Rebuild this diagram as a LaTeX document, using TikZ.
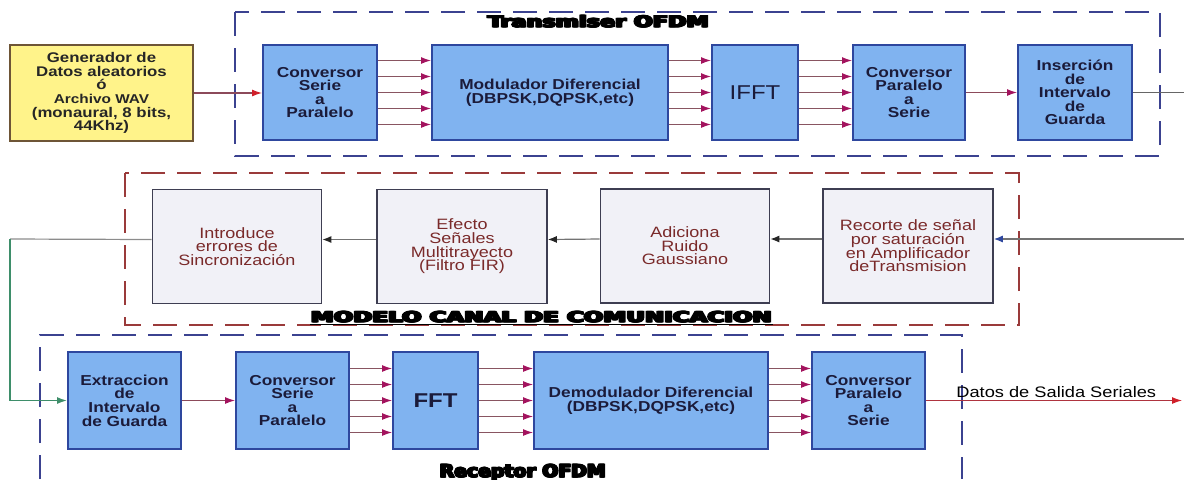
\documentclass[tikz,border=0pt]{standalone}
\usepackage{fontspec}
\setmainfont{Liberation Sans}[FakeStretch=1.2]
\newfontfamily\heavyfont{DejaVu Sans}[FakeBold=6]
\usepackage{graphicx}
\usepackage{tikz}
\usetikzlibrary{arrows.meta,calc}

\definecolor{boxblue}{HTML}{80B3F0}
\definecolor{edgeblue}{HTML}{2E479E}
\definecolor{genyellow}{HTML}{FFF38A}
\definecolor{genedge}{HTML}{6E5536}
\definecolor{chanfill}{HTML}{F1F1F7}
\definecolor{chanedge}{HTML}{3E3E52}
\definecolor{chantext}{HTML}{7A2A2A}
\definecolor{frameblue}{HTML}{3B4290}
\definecolor{framered}{HTML}{9A3A3A}
\definecolor{wirered}{HTML}{8C4A5A}
\definecolor{tipmag}{HTML}{A3135E}
\definecolor{tipred}{HTML}{D0202A}
\definecolor{wiregreen}{HTML}{3E8E6A}
\definecolor{boxtext}{HTML}{1B1B3A}

% heavy title text: a few copies side by side
\newcommand{\heavytitle}[1]{{\heavyfont\bfseries\rlap{\kern0.35pt#1}\rlap{\kern0.7pt#1}#1}}

\begin{document}
\lineskiplimit=-10pt
\begin{tikzpicture}[x=0.5pt,y=-0.5pt,
  bluebox/.style={draw=edgeblue,fill=boxblue,line width=1pt,inner sep=0pt,align=center,text=boxtext,
    font=\bfseries\fontsize{7.2}{6.8}\selectfont,minimum height=47.5pt},
  chanbox/.style={draw=chanedge,fill=chanfill,line width=0.8pt,inner sep=0pt,align=center,text=chantext,
    font=\fontsize{7.5}{6.8}\selectfont,minimum width=84.5pt,minimum height=57pt},
  frame/.style={dash pattern=on 12pt off 6pt,line width=0.8pt},
  wire/.style={draw=wirered,line width=0.6pt,-{Latex[length=5pt,width=3.5pt,color=tipmag]}},
  par/.style={draw=wirered!80!gray,line width=0.6pt,-{Latex[length=5pt,width=3.5pt,color=tipmag]}},
  back/.style={draw=black!55,line width=0.6pt,-{Latex[length=4.5pt,width=3.5pt,color=black!85]}},
  title/.style={inner sep=0pt,anchor=base},
]
\useasboundingbox (0,0) rectangle (1184,479);
% dashed frames
\draw[frame,draw=frameblue] (235,12) rectangle (1160,156);
\draw[frame,draw=framered] (125,173) rectangle (1019,325);
\draw[frame,draw=frameblue] (40,479) -- (40,335) -- (962,335) -- (962,479);
\node[title] (txtitle) at (597.5,27) {\resizebox{110.5pt}{6pt}{\heavytitle{Transmiser OFDM}}};
\node[title] (chtitle) at (540.5,322) {\resizebox{230.5pt}{5.5pt}{\heavytitle{\underline{MODELO CANAL DE COMUNICACION}}}};
\node[title] (rxtitle) at (522,477) {\resizebox{83pt}{6.5pt}{\heavytitle{Receptor OFDM}}};
% -> transmisor
\node[draw=genedge,fill=genyellow,line width=0.9pt,inner sep=0pt,align=center,text=black!85,
  font=\bfseries\fontsize{7}{6.8}\selectfont,minimum width=91.5pt,minimum height=48pt] (gen) at (101.5,93)
  {Generador de\\Datos aleatorios\\ó\\{\fontsize{6.4}{6.8}\selectfont Archivo WAV}\\(monaural, 8 bits,\\44Khz)};
\node[bluebox,minimum width=57pt] (sp1) at (320,92.5) {Conversor\\Serie\\a\\Paralelo};
\node[bluebox,minimum width=118pt] (mod) at (550,92.5) {Modulador Diferencial\\(DBPSK,DQPSK,etc)};
\node[bluebox,minimum width=43pt,font=\fontsize{10}{12}\selectfont] (ifft) at (755,92.5) {IFFT};
\node[bluebox,minimum width=56pt] (ps1) at (909,92.5) {Conversor\\Paralelo\\a\\Serie};
\node[bluebox,minimum width=57pt] (ins) at (1075,92.5) {Inserción\\de\\Intervalo\\de\\Guarda};
\coordinate (txout) at (1184,92.5);
\draw[draw=wirered,line width=0.6pt,-{Latex[length=5pt,width=3.5pt,color=tipred]}] (gen.east) -- (gen.east -| sp1.west);
\foreach \dy in {-16,-8,0,8,16}{
  \draw[par] ([yshift=\dy pt]sp1.east) -- ([yshift=\dy pt]mod.west);
  \draw[par] ([yshift=\dy pt]mod.east) -- ([yshift=\dy pt]ifft.west);
  \draw[par] ([yshift=\dy pt]ifft.east) -- ([yshift=\dy pt]ps1.west);
}
\draw[wire] (ps1) -- (ins);
\draw[black!60,line width=0.6pt] (ins) -- (txout);
% -> canal
\node[chanbox] (intro) at (237,246.5) {Introduce\\errores de\\Sincronización};
\node[chanbox,minimum width=85pt] (efe) at (462,246.5) {Efecto\\Señales\\Multitrayecto\\(Filtro FIR)};
\node[chanbox] (adi) at (685,246) {Adiciona\\Ruido\\Gaussiano};
\node[chanbox,minimum width=85pt] (rec) at (908,246) {Recorte de señal\\por saturación\\en Amplificador\\deTransmision};
\coordinate (chin) at (1184,239);
\draw[back,-{Latex[length=4.5pt,width=3.5pt,color=edgeblue]}] (chin) -- ([yshift=3.5pt]rec.east);
\draw[back] ([yshift=3.5pt]rec.west) -- ([yshift=3.5pt]adi.east);
\draw[back] ([yshift=3.5pt]adi.west) -- ([yshift=3.5pt]efe.east);
\draw[back] ([yshift=3.5pt]efe.west) -- ([yshift=3.5pt]intro.east);
% -> receptor
\node[bluebox,minimum width=56.5pt,minimum height=48.5pt] (ext) at (124.5,400.5) {Extraccion\\de\\Intervalo\\de Guarda};
\node[bluebox,minimum width=56.5pt,minimum height=48.5pt] (sp2) at (292.5,400.5) {Conversor\\Serie\\a\\Paralelo};
\node[bluebox,minimum width=42.5pt,minimum height=48.5pt,font=\bfseries\fontsize{10}{12}\selectfont] (fft) at (435.5,400.5) {FFT};
\node[bluebox,minimum width=117pt,minimum height=48.5pt] (dem) at (651,400.5) {Demodulador Diferencial\\(DBPSK,DQPSK,etc)};
\node[bluebox,minimum width=56.5pt,minimum height=48.5pt] (ps2) at (868.5,400.5) {Conversor\\Paralelo\\a\\Serie};
\coordinate (turn) at (10,239);
\coordinate (out) at (1182,400.5);
\draw[black!45,line width=0.6pt] ([yshift=3.5pt]intro.west) -- (turn);
\draw[wiregreen,line width=0.7pt,-{Latex[length=5pt,width=3.5pt]}] (turn) -- (turn |- ext.west) -- (ext.west);
\draw[wire] (ext) -- (sp2);
\foreach \dy in {-16,-8,0,8,16}{
  \draw[par] ([yshift=\dy pt]sp2.east) -- ([yshift=\dy pt]fft.west);
  \draw[par] ([yshift=\dy pt]fft.east) -- ([yshift=\dy pt]dem.west);
  \draw[par] ([yshift=\dy pt]dem.east) -- ([yshift=\dy pt]ps2.west);
}
\draw[draw=wirered!70!red,line width=0.6pt,-{Latex[length=5pt,width=3.5pt,color=tipred]}] (ps2) -- (out);
\node[anchor=base west,inner sep=0pt,font=\fontsize{7.6}{9}\selectfont] (outlbl) at (956,397) {Datos de Salida Seriales};
\end{tikzpicture}
\end{document}
